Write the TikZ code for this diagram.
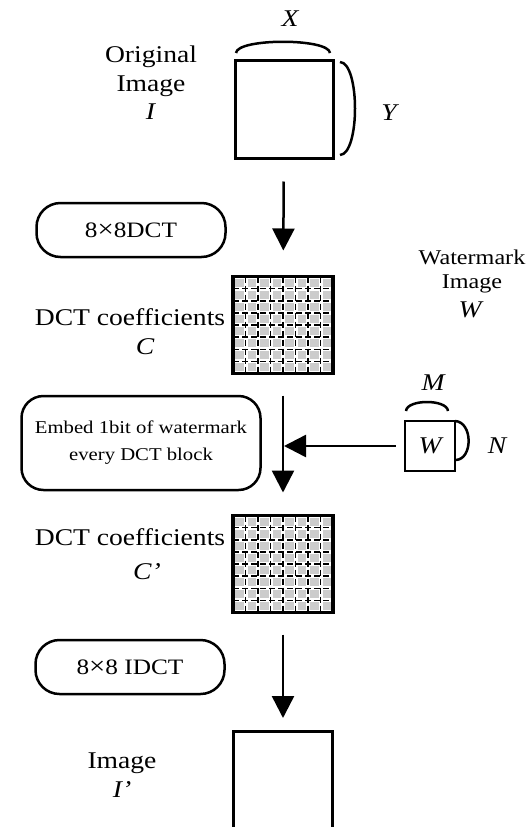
\documentclass[tikz,border=0pt]{standalone}
\usepackage{fontspec}
\setmainfont{Liberation Serif}[FakeStretch=1.15]
\usepackage{tikz}
\usetikzlibrary{arrows.meta}

\newcommand{\bigtimes}{{\fontsize{25}{25}\selectfont ×}}

\begin{document}
\begin{tikzpicture}[x=1pt,y=1pt,
	lbl/.style={inner sep=0pt, align=center, font=\fontsize{24}{28.5}\selectfont},
	sym/.style={inner sep=0pt, font=\fontsize{24}{28}\selectfont\itshape},
	sq/.style={draw, line width=3pt, minimum size=98pt, inner sep=0pt},
	box/.style={draw, line width=2.5pt, rounded corners=24pt, minimum width=189pt, minimum height=54pt, font=\fontsize{22}{26}\selectfont},
	flow/.style={line width=2.5pt, -{Triangle[length=22pt,width=22pt]}},
	brace/.style={line width=2.5pt},
	dctline/.style={line width=1.5pt, dash pattern=on 6pt off 3pt},
	coefgrid/.style={draw, line width=3.5pt, minimum width=100pt, minimum height=97pt, inner sep=0pt, outer sep=0pt}]
	\useasboundingbox (0,0) rectangle (529,-827);

	% original image
	\node[sq] (orig) at (284,-109) {};
	\node[lbl] (origtxt) at (151,-83) {Original\\Image\\\textit{I}};
	\node[sym] (xlbl) at (290,-19) {X};
	\node[sym] (ylbl) at (389,-113) {Y};
	\draw[brace] (236,-53) .. controls (237,-38) and (329,-38) .. (330,-53);
	\draw[brace] (340,-62) .. controls (360,-63) and (360,-154) .. (340,-155);

	% forward DCT
	\node[box] (dct) at (131,-230) {8\bigtimes8DCT};
	\node[coefgrid] (coefA) at (283,-325) {};
	\node[lbl] (coefAtxt) at (130,-317) {DCT coefficients};
	\node[sym] (csym) at (145,-347) {C};
	\draw[flow, shorten <=22pt, shorten >=26pt] (orig) -- (coefA);

	% watermark
	\node[lbl, font=\fontsize{21}{24}\selectfont] (wmtxt) at (472,-271) {Watermark\\Image};
	\node[sym] (wsym) at (470,-310) {W};
	\node[draw, line width=2.5pt, minimum size=50pt, inner sep=0pt, font=\fontsize{24}{28}\selectfont\itshape] (wm) at (430,-446) {W};
	\node[sym] (mlbl) at (433,-383) {M};
	\node[sym] (nlbl) at (497,-446) {N};
	\draw[brace] (406,-411) .. controls (407,-399) and (447,-399) .. (448,-411);
	\draw[brace] (455,-421) .. controls (473,-422) and (473,-459) .. (456,-460);

	% embedding
	\node[box, minimum width=239pt, minimum height=94pt, rounded corners=22pt, font=\fontsize{18}{27}\selectfont, align=center] (embed) at (141,-443) {Embed 1bit of watermark\\every DCT block};
	\node[coefgrid] (coefB) at (283,-564) {};
	\node[lbl] (coefBtxt) at (130,-537) {DCT coefficients};
	\node[sym] (cpsym) at (147,-572) {C'};
	\draw[flow, shorten <=22pt, shorten >=23pt] (coefA) -- (coefB);
	\draw[flow, shorten <=8pt, shorten >=1pt] (wm.west) -- (coefA.south |- wm.west);

	% 8x8 blocks of both coefficient grids
	\foreach \g in {coefA,coefB} {
		\begin{scope}[shift={(\g.north west)}]
			\foreach \i in {0,...,7} \foreach \j in {0,...,7}
				\fill[black!20] (\i*12.5+2,-\j*12.125-2) rectangle ++(8.5,-8.1);
			\foreach \i in {1,...,7} {
				\draw[dctline] (\i*12.5,0) -- ++(0,-97);
				\draw[dctline] (0,-\i*12.125) -- ++(100,0);
			}
		\end{scope}
	}

	% inverse DCT
	\node[box] (idct) at (130,-667) {8\bigtimes8 IDCT};
	\node[sq, minimum size=99pt] (result) at (283,-781) {};
	\node[lbl] (resulttxt) at (122,-775) {Image\\\textit{I'}};
	\draw[flow, shorten <=22pt, shorten >=12pt] (coefB) -- (result);
\end{tikzpicture}
\end{document}
